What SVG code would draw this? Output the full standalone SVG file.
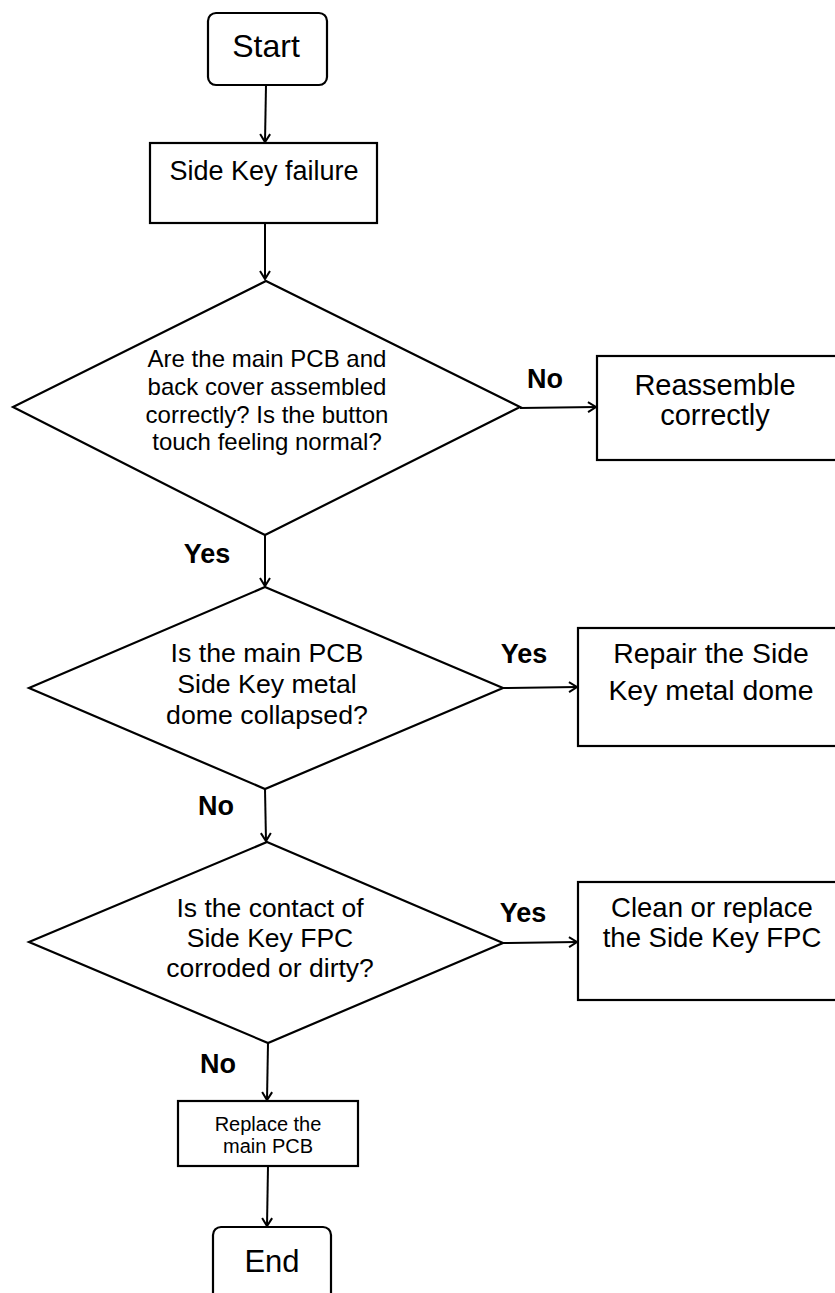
<svg xmlns="http://www.w3.org/2000/svg" width="835" height="1293" viewBox="0 0 835 1293">
<style>
.s{fill:#fff;stroke:#000;stroke-width:2.2}
.c{fill:none;stroke:#000;stroke-width:2}
text{font-family:"Liberation Sans",Arial,sans-serif;fill:#000;text-anchor:middle}
.b{font-weight:bold;font-size:27px}
</style>
<defs>
<marker id="a" markerWidth="12" markerHeight="12" refX="9" refY="6" orient="auto" markerUnits="userSpaceOnUse">
<path d="M1,1 L9,6 L1,11" fill="none" stroke="#000" stroke-width="2"/>
</marker>
</defs>
<rect width="835" height="1293" fill="#fff"/>
<g id="connectors">
<line class="c" x1="266" y1="85" x2="265" y2="142" marker-end="url(#a)"/>
<line class="c" x1="265" y1="223" x2="265" y2="279" marker-end="url(#a)"/>
<line class="c" x1="520" y1="408" x2="596" y2="407" marker-end="url(#a)"/>
<line class="c" x1="265" y1="535" x2="265" y2="586" marker-end="url(#a)"/>
<line class="c" x1="503" y1="688" x2="577" y2="687" marker-end="url(#a)"/>
<line class="c" x1="265" y1="789" x2="266" y2="841" marker-end="url(#a)"/>
<line class="c" x1="503" y1="943" x2="577" y2="942" marker-end="url(#a)"/>
<line class="c" x1="268" y1="1043" x2="267" y2="1100" marker-end="url(#a)"/>
<line class="c" x1="268" y1="1166" x2="267" y2="1226" marker-end="url(#a)"/>
<text class="b" x="545" y="388">No</text>
<text class="b" x="207" y="563">Yes</text>
<text class="b" x="524" y="663">Yes</text>
<text class="b" x="216" y="815">No</text>
<text class="b" x="523" y="922">Yes</text>
<text class="b" x="218" y="1073">No</text>
</g>
<g id="start">
<rect class="s" x="208" y="13" width="119" height="72" rx="8"/>
<text x="266" y="57" font-size="32">Start</text>
</g>
<g id="failure">
<rect class="s" x="150" y="143" width="227" height="80"/>
<text x="264" y="180" font-size="27">Side Key failure</text>
</g>
<g id="d1">
<polygon class="s" points="266,281 520,407 265,535 13,407"/>
<text font-size="24"><tspan x="267" y="367">Are the main PCB and</tspan><tspan x="267" y="395">back cover assembled</tspan><tspan x="267" y="423">correctly? Is the button</tspan><tspan x="267" y="450">touch feeling normal?</tspan></text>
</g>
<g id="reassemble">
<rect class="s" x="597" y="356" width="240" height="104"/>
<text font-size="29"><tspan x="715" y="395">Reassemble</tspan><tspan x="715" y="425">correctly</tspan></text>
</g>
<g id="d2">
<polygon class="s" points="265,587 503,688 265,789 29,688"/>
<text font-size="26.7"><tspan x="267" y="662">Is the main PCB</tspan><tspan x="267" y="693">Side Key metal</tspan><tspan x="267" y="724">dome collapsed?</tspan></text>
</g>
<g id="repair">
<rect class="s" x="578" y="628" width="260" height="118"/>
<text font-size="28.4"><tspan x="711" y="663">Repair the Side</tspan><tspan x="711" y="700">Key metal dome</tspan></text>
</g>
<g id="d3">
<polygon class="s" points="267,842 503,943 268,1043 29,942"/>
<text font-size="26.5"><tspan x="270" y="917">Is the contact of</tspan><tspan x="270" y="947">Side Key FPC</tspan><tspan x="270" y="977">corroded or dirty?</tspan></text>
</g>
<g id="clean">
<rect class="s" x="578" y="882" width="260" height="118"/>
<text font-size="27.5"><tspan x="712" y="917">Clean or replace</tspan><tspan x="712" y="947">the Side Key FPC</tspan></text>
</g>
<g id="replace">
<rect class="s" x="178" y="1101" width="180" height="65"/>
<text font-size="20"><tspan x="268" y="1131">Replace the</tspan><tspan x="268" y="1153">main PCB</tspan></text>
</g>
<g id="end">
<rect class="s" x="213" y="1227" width="118" height="80" rx="8"/>
<text x="272" y="1272" font-size="31">End</text>
</g>
</svg>
